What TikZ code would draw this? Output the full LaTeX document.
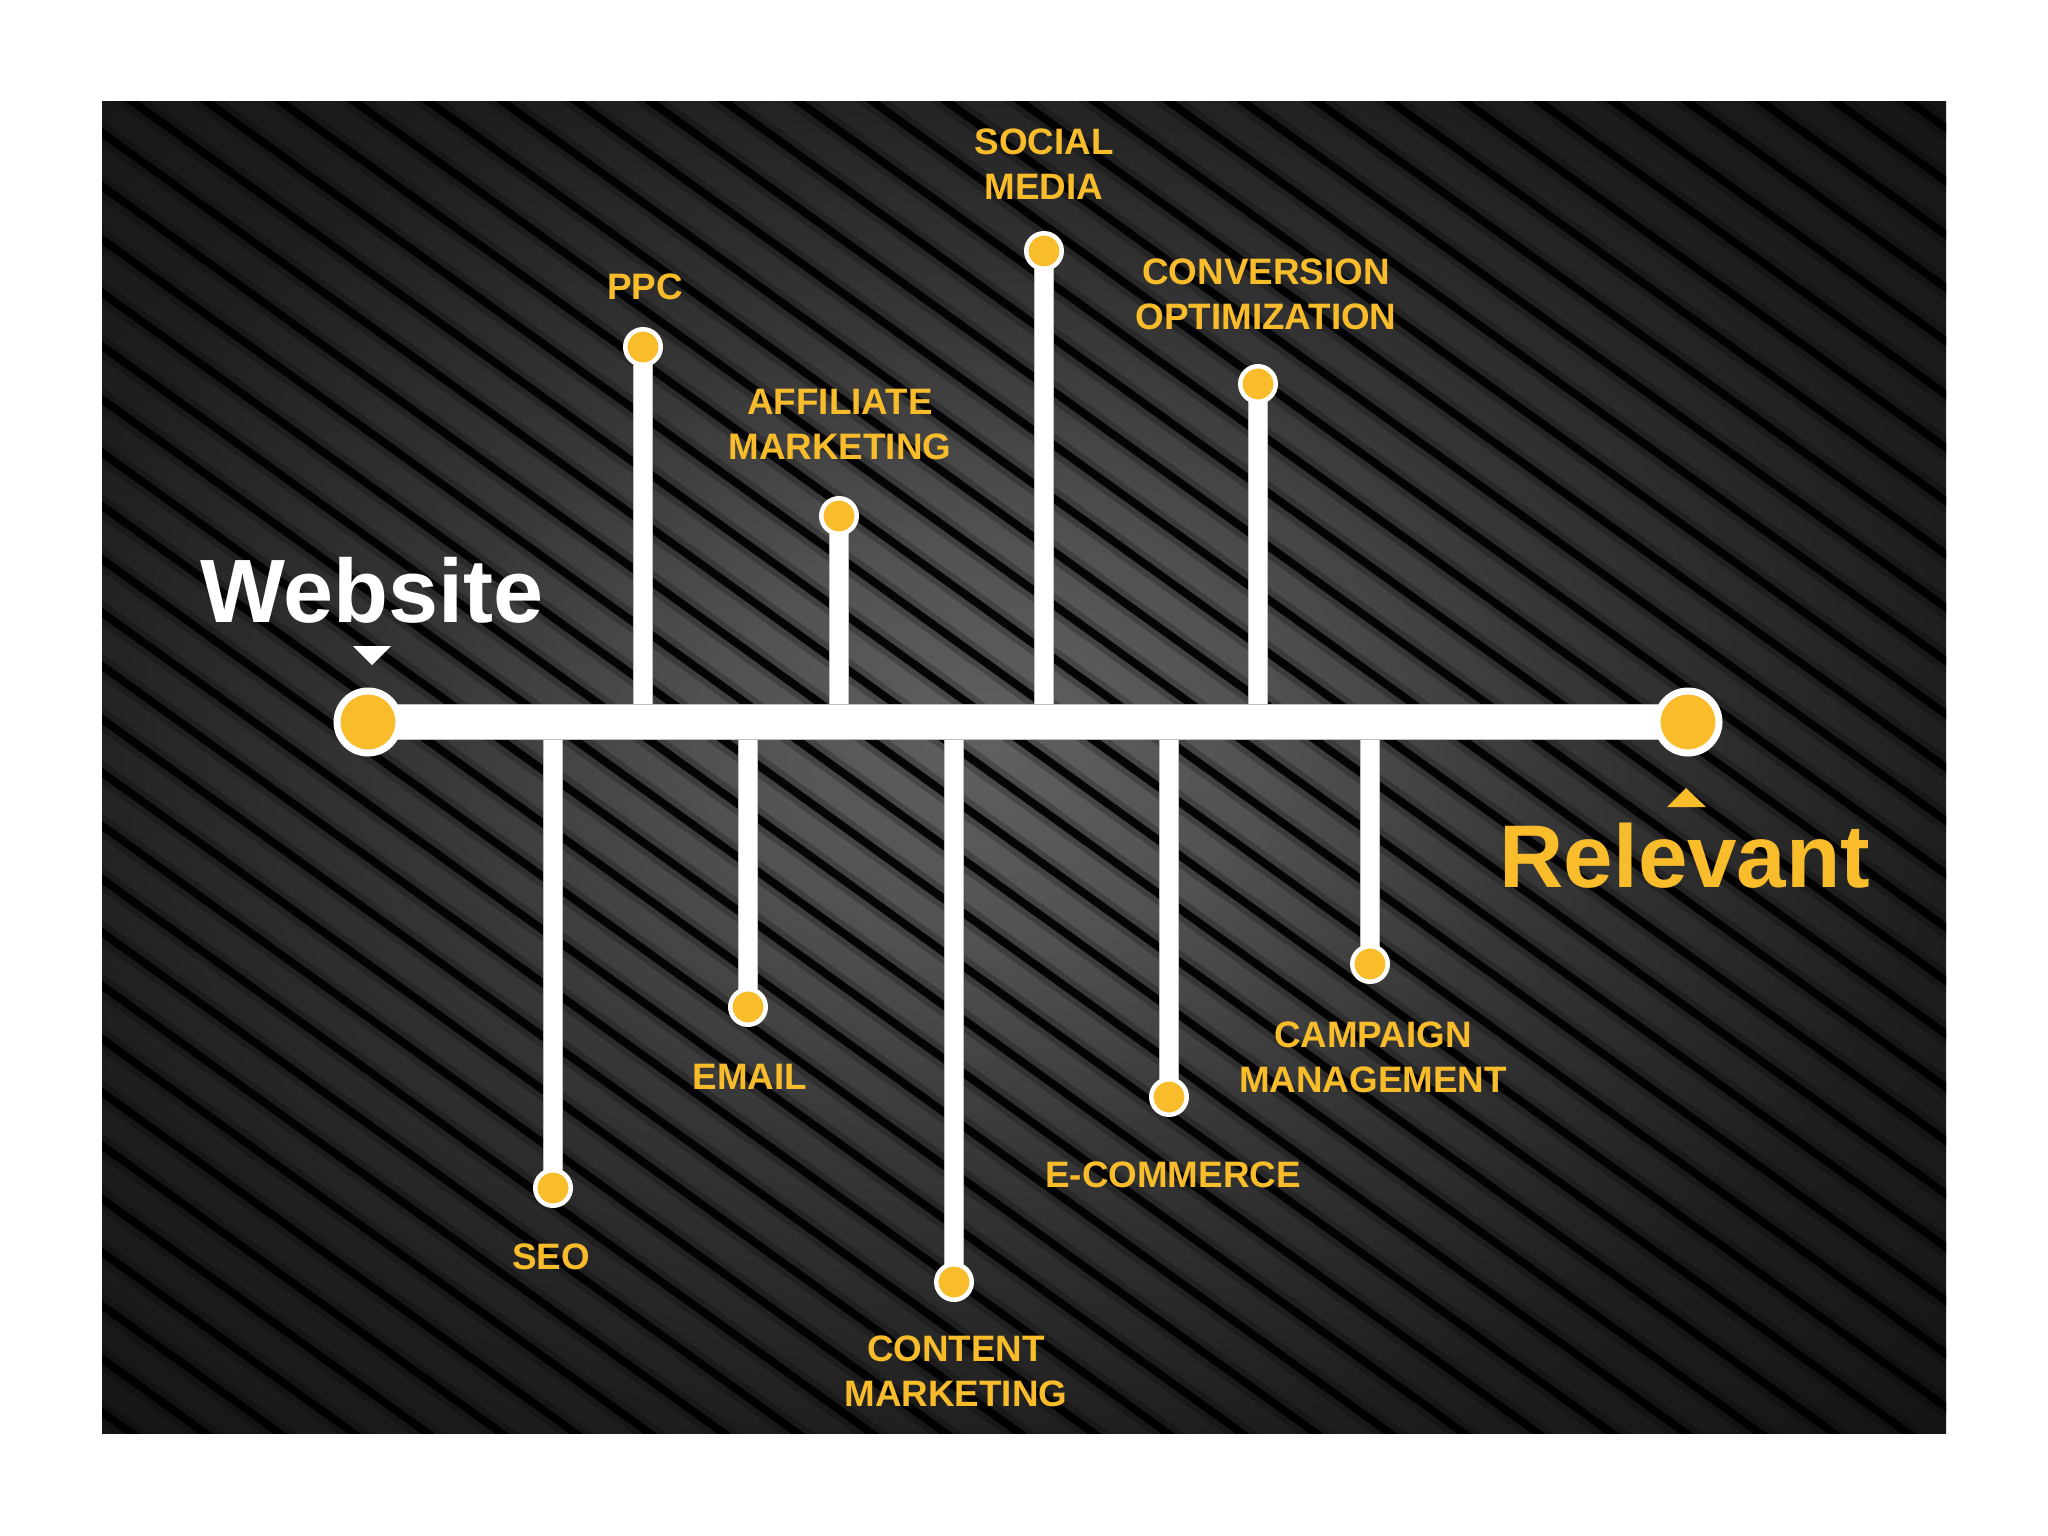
\documentclass[tikz,border=0pt]{standalone}
\usepackage{fontspec}
\setmainfont{Liberation Sans}
\usetikzlibrary{calc}
\definecolor{ylw}{RGB}{249,189,43}
\definecolor{g0}{RGB}{96,96,96}
\definecolor{g1}{RGB}{82,82,82}
\definecolor{g2}{RGB}{54,54,54}
\definecolor{g3}{RGB}{30,30,30}
\definecolor{g4}{RGB}{17,17,17}
\definecolor{barline}{RGB}{190,190,190}
\pgfdeclareradialshading{glow}{\pgfpoint{0bp}{0bp}}{color(0bp)=(g0); color(7bp)=(g1); color(15bp)=(g2); color(25bp)=(g3); color(38bp)=(g4); color(50bp)=(g4)}
\pgfdeclarelayer{bg}
\pgfdeclarelayer{mid}
\pgfsetlayers{bg,mid,main}
\begin{document}
\begin{tikzpicture}[x=1pt,y=-1pt,
  lbl/.style={text=ylw, font=\fontsize{36.8}{45}\selectfont\bfseries, align=center, inner sep=0pt},
  pin/.style={circle, fill=ylw, draw=white, line width=4.5pt, minimum size=35.5pt, inner sep=0pt},
  bigpin/.style={circle, fill=ylw, draw=white, line width=7pt, minimum size=62pt, inner sep=0pt},
  stem/.style={draw=white, line width=18pt},
  stemedge/.style={draw=barline, line width=19.5pt},
  stripeshade/.style={draw=black, line width=20pt, opacity=0.22},
  stripeline/.style={draw=black, line width=8pt, opacity=0.92},
  title/.style={font=\fontsize{90}{90}\selectfont\bfseries, inner sep=0pt, anchor=base}]
\useasboundingbox (0,0) rectangle (2048,1536);
\begin{pgfonlayer}{bg}
\fill[white] (0,0) rectangle (2048,1536);
\begin{scope}
\clip (102,102) rectangle (1946,1433);
\fill[g4] (102,102) rectangle (1946,1433);
\shade[shading=glow] (20,30) rectangle (1960,1450);
\foreach \k in {-28,...,24} {
  \pgfmathsetmacro\c{166+\k*53.3}
  \draw[stripeshade] (90,{\c+0.72*90}) -- (1960,{\c+0.72*1960});
  \draw[stripeline] (90,{\c+0.72*90}) -- (1960,{\c+0.72*1960});
}
\end{scope}
\end{pgfonlayer}

% end points of the main bar
\node[bigpin] (web) at (368,722) {};
\node[bigpin] (rel) at (1688,722) {};

% pins above the bar
\node[pin] (ppc) at (643,347) {};
\node[pin] (aff) at (839,516) {};
\node[pin] (soc) at (1044,251) {};
\node[pin] (cvo) at (1258,384) {};
% pins below the bar
\node[pin] (seo) at (553,1188) {};
\node[pin] (eml) at (748,1007) {};
\node[pin] (cnt) at (954,1282) {};
\node[pin] (ecm) at (1169,1097) {};
\node[pin] (cmp) at (1370,964) {};

\begin{pgfonlayer}{mid}
\foreach \p in {ppc,aff,soc,cvo,seo,eml,cnt,ecm,cmp} {
  \draw[stemedge] (\p.center) -- (\p.center |- web.center);
  \draw[stem] (\p.center) -- (\p.center |- web.center);
}
\draw[draw=barline, line width=36.5pt] (web.center) -- (rel.center);
\draw[draw=white, line width=34pt] (web.center) -- (rel.center);
\end{pgfonlayer}

% labels
\node[lbl] (socl) at (1044,164.5) {SOCIAL\\MEDIA};
\node[lbl] (cvol) at (1266,294.5) {CONVERSION\\OPTIMIZATION};
\node[lbl] (ppcl) at (645,287) {PPC};
\node[lbl] (affl) at (840,425) {AFFILIATE\\MARKETING};
\node[lbl] (seol) at (551,1257) {SEO};
\node[lbl] (emll) at (750,1077) {EMAIL};
\node[lbl] (cntl) at (956,1371.5) {CONTENT\\MARKETING};
\node[lbl] (ecml) at (1173,1174.5) {E-COMMERCE};
\node[lbl] (cmpl) at (1373,1057) {CAMPAIGN\\MANAGEMENT};

% titles and pointers
\node[title, text=white] (webt) at (372,622) {Website};
\fill[white] (353,646) -- (391,646) -- (372,665) -- cycle;
\node[title, text=ylw, font=\fontsize{89}{89}\selectfont\bfseries] (relt) at (1685,887) {Relevant};
\fill[ylw] (1667,807) -- (1706,807) -- (1686,788) -- cycle;
\end{tikzpicture}
\end{document}
